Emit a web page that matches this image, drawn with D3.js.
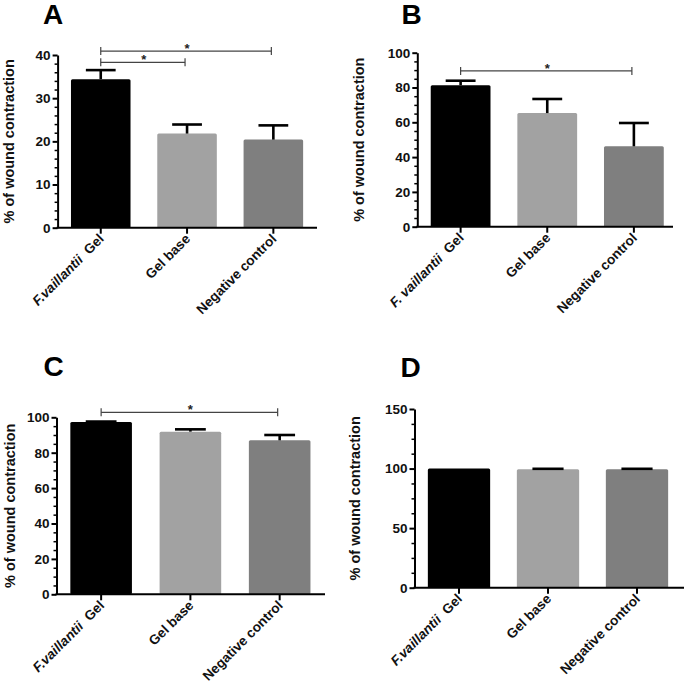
<!DOCTYPE html>
<html><head><meta charset="utf-8">
<script src="https://cdn.jsdelivr.net/npm/d3@7"></script>
<style>
html,body{margin:0;padding:0;background:#fff;}
svg text{font-family:"Liberation Sans",Arial,sans-serif;font-weight:bold;}
</style></head>
<body><svg id="c" width="685" height="685"></svg>
<script>
// ---- data ----
const categories = ["F.vaillantii Gel", "Gel base", "Negative control"];
const panelLetters = ["A", "B", "C", "D"];
const valuesA = [34.4, 21.8, 20.4];
const errorsA = [2.1, 2.1, 3.3];
const valuesB = [81.3, 65.3, 46.2];
const errorsB = [2.6, 8.1, 13.4];
const valuesC = [97.3, 91.9, 87.0];
const errorsC = [0.3, 1.3, 3.0];
const valuesD = [100.0, 99.5, 99.5];
const errorsD = [0.0, 0.3, 0.3];
const yTicksA = [0, 10, 20, 30, 40];
const yTicksB = [0, 20, 40, 60, 80, 100];
const yTicksC = [0, 20, 40, 60, 80, 100];
const yTicksD = [0, 50, 100, 150];
// significance brackets: [from index, to index, label, height in axis units]
const sigA = [[0, 2, "*", 40.9], [0, 1, "*", 38.3]];
const sigB = [[0, 2, "*", 89.5]];
const sigC = [[0, 2, "*", 102.8]];
const sigD = [];
const yLabel = "% of wound contraction";
const barColors = ["#000000", "#a2a2a2", "#7f7f7f"];

// ---- layout ----
const panels = [
  {letter: "A", vals: valuesA, errs: errorsA, ticks: yTicksA, minor: 2, sig: sigA,
   x0: 57.6, x1: 316.5, axisEnd: 317, yTop: 55, yBot: 227.7, max: 40, pad: 0.31,
   title: [44, 23.5], ylx: 9, prefix: "F.vaillantii"},
  {letter: "B", vals: valuesB, errs: errorsB, ticks: yTicksB, minor: 5, sig: sigB,
   x0: 417.3, x1: 677.2, axisEnd: 673, yTop: 52.7, yBot: 226.7, max: 100, pad: 0.31,
   title: [402.5, 23.5], ylx: 358.5, prefix: "F. vaillantii"},
  {letter: "C", vals: valuesC, errs: errorsC, ticks: yTicksC, minor: 5, sig: sigC,
   x0: 56.5, x1: 324.3, axisEnd: 325, yTop: 417.3, yBot: 594.3, max: 100, pad: 0.31,
   title: [44.5, 376], ylx: 9.5, prefix: "F.vaillantii"},
  {letter: "D", vals: valuesD, errs: errorsD, ticks: yTicksD, minor: 12.5, sig: sigD,
   x0: 414.5, x1: 681.5, axisEnd: 684, yTop: 409, yBot: 587.7, max: 150, pad: 0.30,
   title: [401.5, 376.5], ylx: 355, prefix: "F.vaillantii"}
];

const svg = d3.select("#c");

panels.forEach(p => {
  const g = svg.append("g");
  const x = d3.scaleBand().domain(categories).range([p.x0, p.x1])
    .paddingInner(p.pad).paddingOuter(p.pad / 2);
  const y = d3.scaleLinear().domain([0, p.max]).range([p.yBot, p.yTop]);
  const bw = x.bandwidth();

  // bars
  g.selectAll("rect.bar").data(p.vals).join("rect")
    .attr("x", (d, i) => x(categories[i]))
    .attr("y", d => y(d))
    .attr("width", bw)
    .attr("height", d => y(0) - y(d))
    .attr("rx", 1.5)
    .attr("fill", (d, i) => barColors[i]);

  // error bars (upper only)
  const eb = g.selectAll("g.err").data(p.vals.map((v, i) => [v, p.errs[i], i]).filter(e => e[1] > 0)).join("g");
  eb.append("line")
    .attr("x1", d => x(categories[d[2]]) + bw / 2)
    .attr("x2", d => x(categories[d[2]]) + bw / 2)
    .attr("y1", d => y(d[0]))
    .attr("y2", d => y(d[0] + d[1]))
    .attr("stroke", "#000").attr("stroke-width", 2.6);
  eb.append("line")
    .attr("x1", d => x(categories[d[2]]) + bw / 2 - bw * 0.25)
    .attr("x2", d => x(categories[d[2]]) + bw / 2 + bw * 0.25)
    .attr("y1", d => y(d[0] + d[1]))
    .attr("y2", d => y(d[0] + d[1]))
    .attr("stroke", "#000").attr("stroke-width", 2.6);

  // y axis with minor ticks
  const minorTicks = d3.range(0, p.max + 0.001, p.minor).filter(v => !p.ticks.includes(v));
  g.append("g").attr("transform", `translate(${p.x0},0)`)
    .call(d3.axisLeft(y).tickValues(minorTicks).tickSize(3).tickFormat(""))
    .call(a => a.select(".domain").remove())
    .call(a => a.selectAll("line").attr("stroke", "#000").attr("stroke-width", 1.5));
  const ya = g.append("g").attr("transform", `translate(${p.x0},0)`)
    .call(d3.axisLeft(y).tickValues(p.ticks).tickSize(5).tickSizeOuter(0).tickPadding(2));
  ya.select(".domain").attr("stroke", "#000").attr("stroke-width", 2);
  ya.selectAll("line").attr("stroke", "#000").attr("stroke-width", 2);
  ya.selectAll("text").attr("font-size", 13.5).attr("font-weight", "bold").attr("fill", "#111")
    .attr("font-family", "Liberation Sans, Arial, sans-serif");

  // x axis
  g.append("line").attr("x1", p.x0 - 1).attr("x2", p.axisEnd)
    .attr("y1", p.yBot).attr("y2", p.yBot).attr("stroke", "#000").attr("stroke-width", 2);
  g.selectAll("line.xt").data(categories).join("line")
    .attr("x1", d => x(d) + bw / 2).attr("x2", d => x(d) + bw / 2)
    .attr("y1", p.yBot).attr("y2", p.yBot + 6)
    .attr("stroke", "#000").attr("stroke-width", 2);

  // x labels rotated
  const lab = g.selectAll("text.xl").data(categories).join("text")
    .attr("transform", d => `translate(${x(d) + bw / 2 + 4},${p.yBot + 12}) rotate(-45)`)
    .attr("text-anchor", "end")
    .attr("font-size", 13.6).attr("fill", "#111");
  lab.each(function (d, i) {
    const t = d3.select(this);
    if (i === 0) {
      t.append("tspan").attr("font-style", "italic").text(p.prefix);
      t.append("tspan").text("\u00a0\u00a0Gel");
    } else {
      t.text(d);
    }
  });

  // y label
  g.append("text")
    .attr("transform", `translate(${p.ylx + 5},${(p.yTop + p.yBot) / 2}) rotate(-90)`)
    .attr("text-anchor", "middle").attr("font-size", 14.5).attr("fill", "#111")
    .text(yLabel);

  // panel letter
  g.append("text").attr("x", p.title[0] - 1).attr("y", p.title[1])
    .attr("font-size", 28).attr("fill", "#000").text(p.letter);

  // significance brackets
  p.sig.forEach(s => {
    const xa = x(categories[s[0]]) + bw / 2;
    const xb = x(categories[s[1]]) + bw / 2 - 2;
    const yy = y(s[3]);
    const sg = g.append("g").attr("stroke", "#444").attr("stroke-width", 1.2);
    sg.append("line").attr("x1", xa).attr("x2", xb).attr("y1", yy).attr("y2", yy);
    sg.append("line").attr("x1", xa).attr("x2", xa).attr("y1", yy - 4).attr("y2", yy + 4);
    sg.append("line").attr("x1", xb).attr("x2", xb).attr("y1", yy - 4).attr("y2", yy + 4);
    g.append("text").attr("x", (xa + xb) / 2 + 1).attr("y", yy + 2)
      .attr("text-anchor", "middle").attr("font-size", 13).attr("font-weight", "normal")
      .attr("fill", "#222").text(s[2]);
  });
});
</script></body></html>
